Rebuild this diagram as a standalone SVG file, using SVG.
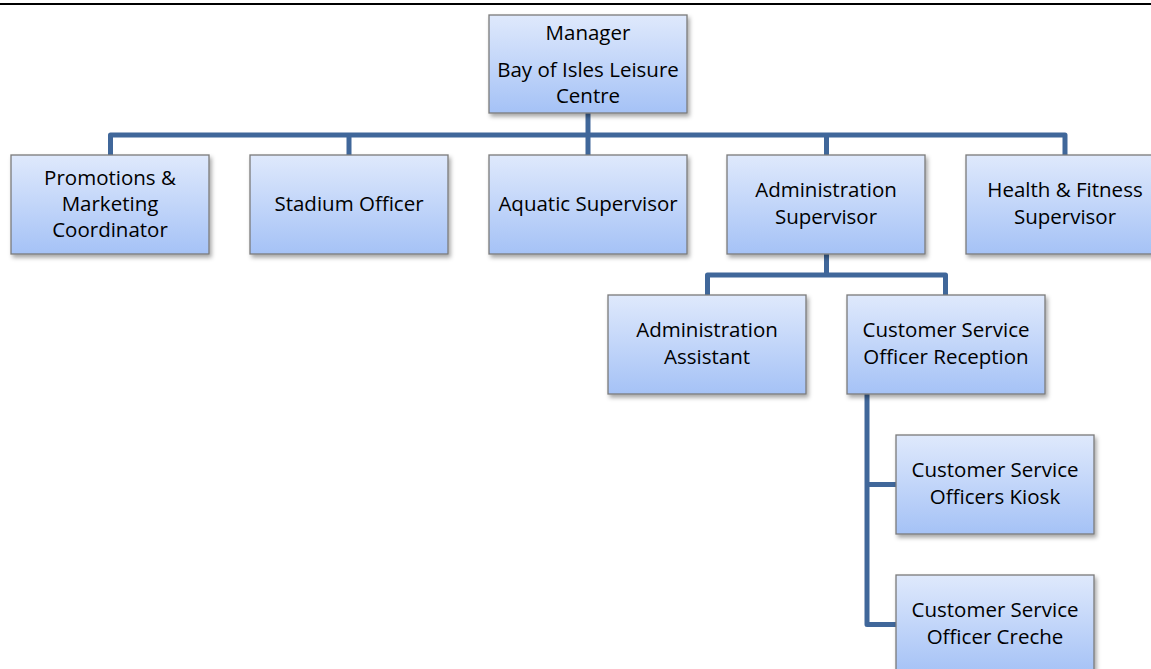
<svg xmlns="http://www.w3.org/2000/svg" width="1151" height="669" viewBox="0 0 1151 669">
<style>
.box{fill:url(#g);stroke:#7a7a7a;stroke-width:1.3;filter:url(#sh)}
.t{font-family:"Open Sans","Liberation Sans",sans-serif;font-size:20.5px;fill:#000;text-anchor:middle}
.c{fill:none;stroke:#40679a;stroke-width:5;stroke-linejoin:round}
</style>
<defs>
<linearGradient id="g" x1="0" y1="0" x2="0" y2="1">
<stop offset="0" stop-color="#dfe9fc"/>
<stop offset="1" stop-color="#a5c2f6"/>
</linearGradient>
<filter id="sh" x="-10%" y="-10%" width="125%" height="130%">
<feDropShadow dx="2" dy="3" stdDeviation="2" flood-color="#000" flood-opacity="0.35"/>
</filter>
</defs>
<rect width="1151" height="669" fill="#fff"/>
<line x1="0" y1="4" x2="1151" y2="4" stroke="#000" stroke-width="2"/>
<g id="connectors">
<path class="c" d="M588,113 V135"/>
<path class="c" d="M110.5,155 V135 H1065 V155"/>
<path class="c" d="M349,135 V155 M588,135 V155 M826.5,135 V155"/>
<path class="c" d="M826.5,254 V275"/>
<path class="c" d="M707.5,295 V275 H945.5 V295"/>
<path class="c" d="M867,394 V624.5 H896 M867,484.5 H896"/>
</g>
<g id="manager"><rect class="box" x="489" y="15" width="198" height="98"/>
<text class="t" x="588" y="40">Manager</text><text class="t" x="588" y="77">Bay of Isles Leisure</text><text class="t" x="588" y="103">Centre</text></g>
<g id="promotions"><rect class="box" x="11" y="155" width="198" height="99"/>
<text class="t" x="110" y="185">Promotions &amp;</text><text class="t" x="110" y="211">Marketing</text><text class="t" x="110" y="237">Coordinator</text></g>
<g id="stadium"><rect class="box" x="250" y="155" width="198" height="99"/>
<text class="t" x="349" y="211">Stadium Officer</text></g>
<g id="aquatic"><rect class="box" x="489" y="155" width="198" height="99"/>
<text class="t" x="588" y="211">Aquatic Supervisor</text></g>
<g id="admin-sup"><rect class="box" x="727" y="155" width="198" height="99"/>
<text class="t" x="826" y="197">Administration</text><text class="t" x="826" y="224">Supervisor</text></g>
<g id="health"><rect class="box" x="966" y="155" width="198" height="99"/>
<text class="t" x="1065" y="197">Health &amp; Fitness</text><text class="t" x="1065" y="224">Supervisor</text></g>
<g id="admin-asst"><rect class="box" x="608" y="295" width="198" height="99"/>
<text class="t" x="707" y="337">Administration</text><text class="t" x="707" y="364">Assistant</text></g>
<g id="cso-reception"><rect class="box" x="847" y="295" width="198" height="99"/>
<text class="t" x="946" y="337">Customer Service</text><text class="t" x="946" y="364">Officer Reception</text></g>
<g id="cso-kiosk"><rect class="box" x="896" y="435" width="198" height="99"/>
<text class="t" x="995" y="477">Customer Service</text><text class="t" x="995" y="504">Officers Kiosk</text></g>
<g id="cso-creche"><rect class="box" x="896" y="575" width="198" height="99"/>
<text class="t" x="995" y="617">Customer Service</text><text class="t" x="995" y="644">Officer Creche</text></g>
</svg>
